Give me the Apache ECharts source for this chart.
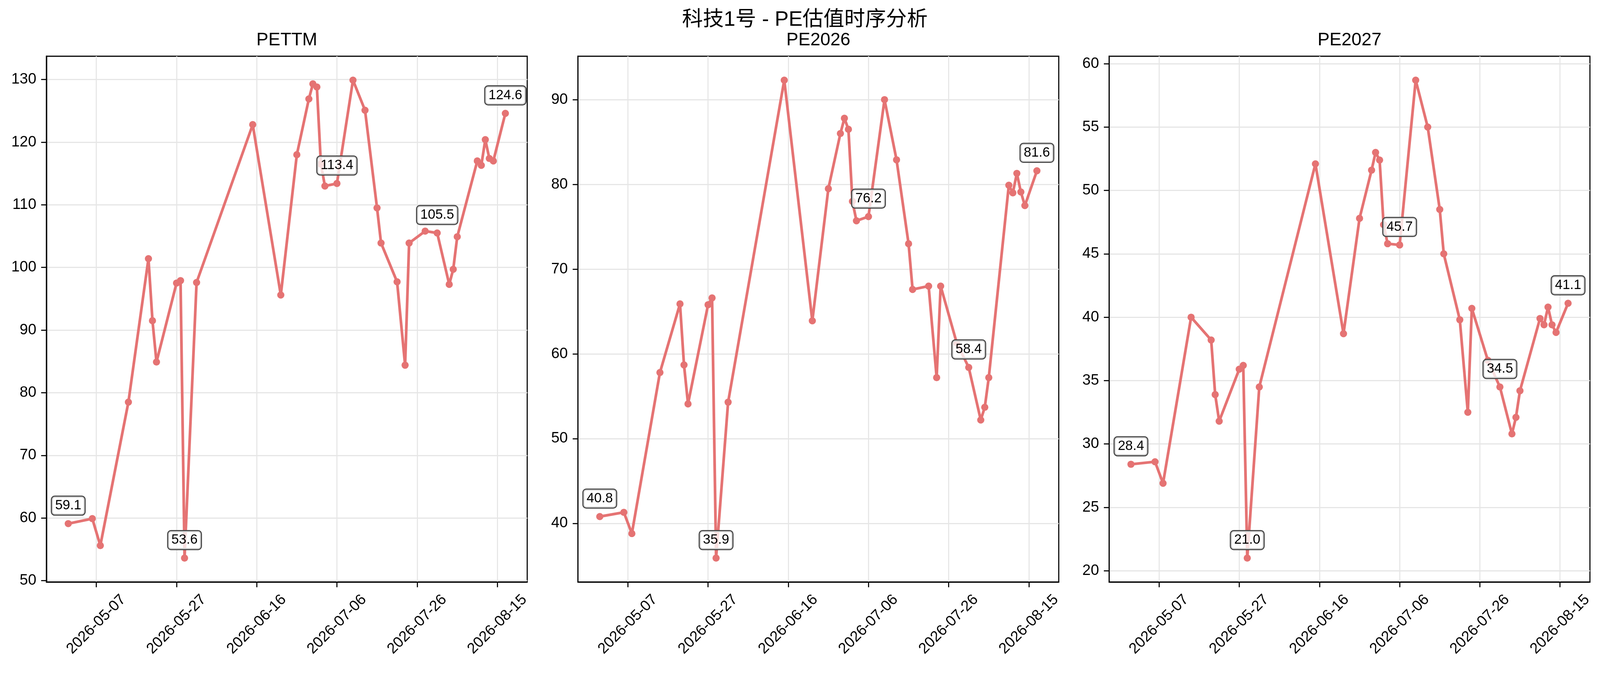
<!DOCTYPE html>
<html>
<head>
<meta charset="utf-8">
<script src="https://cdn.jsdelivr.net/npm/echarts@6/dist/echarts.min.js"></script>
<style>
html,body{margin:0;padding:0;background:#ffffff;overflow:hidden;width:100%;height:100%;}
#chart{width:100vw;height:100vh;}
</style>
</head>
<body>
<div id="chart"></div>
<script>
// ---------------- data ----------------
const mainTitle = '科技1号 - PE估值时序分析';
const panelTitles = ['PETTM', 'PE2026', 'PE2027'];

const dates = [
  '2026-04-30','2026-05-06','2026-05-08','2026-05-15','2026-05-20','2026-05-21','2026-05-22',
  '2026-05-27','2026-05-28','2026-05-29','2026-06-01','2026-06-15','2026-06-22','2026-06-26',
  '2026-06-29','2026-06-30','2026-07-01','2026-07-02','2026-07-03','2026-07-06','2026-07-10',
  '2026-07-13','2026-07-16','2026-07-17','2026-07-21','2026-07-23','2026-07-24','2026-07-28',
  '2026-07-31','2026-08-03','2026-08-04','2026-08-05','2026-08-10','2026-08-11','2026-08-12',
  '2026-08-13','2026-08-14','2026-08-17'
];

const peTTM = [
  59.1, 59.9, 55.6, 78.5, 101.4, 91.5, 84.9,
  97.5, 97.9, 53.6, 97.6, 122.8, 95.6, 118.0,
  126.9, 129.3, 128.8, 116.5, 113.0, 113.4, 129.9,
  125.1, 109.5, 103.9, 97.7, 84.4, 103.9, 105.8,
  105.5, 97.3, 99.7, 104.9, 117.0, 116.3, 120.4,
  117.4, 117.0, 124.6
];

const pe2026 = [
  40.8, 41.3, 38.8, 57.8, 65.9, 58.7, 54.1,
  65.8, 66.6, 35.9, 54.3, 92.3, 63.9, 79.5,
  86.0, 87.8, 86.5, 78.0, 75.7, 76.2, 90.0,
  82.9, 73.0, 67.6, 68.0, 57.2, 68.0, 61.3,
  58.4, 52.2, 53.7, 57.2, 79.9, 79.0, 81.3,
  79.1, 77.5, 81.6
];

const pe2027 = [
  28.4, 28.6, 26.9, 40.0, 38.2, 33.9, 31.8,
  35.9, 36.2, 21.0, 34.5, 52.1, 38.7, 47.8,
  51.6, 53.0, 52.4, 47.3, 45.8, 45.7, 58.7,
  55.0, 48.5, 45.0, 39.8, 32.5, 40.7, 36.6,
  34.5, 30.8, 32.1, 34.2, 39.9, 39.4, 40.8,
  39.4, 38.8, 41.1
];

const labelDates = ['2026-04-30','2026-05-29','2026-07-06','2026-07-31','2026-08-17'];

const xTickDates = ['2026-05-07','2026-05-27','2026-06-16','2026-07-06','2026-07-26','2026-08-15'];
const yTicksTTM = [50, 60, 70, 80, 90, 100, 110, 120, 130];
const yTicks2026 = [40, 50, 60, 70, 80, 90];
const yTicks2027 = [20, 25, 30, 35, 40, 45, 50, 55, 60];

// ---------------- helpers ----------------
const FONT = '"Liberation Sans", Arial, "Noto Sans CJK SC", sans-serif';
const LINE_COLOR = '#E57373';
const el = document.getElementById('chart');
const VW = el.clientWidth || window.innerWidth, VH = el.clientHeight || window.innerHeight;
const SX = VW / 4449, SY = VH / 1723, S = Math.min(SX, SY);

function toDay(s) {
  const p = s.split('-').map(Number);
  return Date.UTC(p[0], p[1] - 1, p[2]) / 86400000;
}
function fromDay(v) {
  return new Date(Math.round(v) * 86400000).toISOString().slice(0, 10);
}
function padRange(arr) {
  const mn = Math.min.apply(null, arr), mx = Math.max.apply(null, arr);
  const m = (mx - mn) * 0.05;
  return [mn - m, mx + m];
}

const xDays = dates.map(toDay);
const xRange = padRange(xDays);
const xTicks = xTickDates.map(toDay);
const labelSet = new Set(labelDates);

const panels = [
  { title: panelTitles[0], values: peTTM, ticks: yTicksTTM },
  { title: panelTitles[1], values: pe2026, ticks: yTicks2026 },
  { title: panelTitles[2], values: pe2027, ticks: yTicks2027 }
];

const gridLefts = [129, 1607, 3084];
const gridTop = 144, gridW = 1337, gridH = 1346;
const TICK_FS = 41.7;

const grids = [], xAxes = [], yAxes = [], series = [], graphics = [];

graphics.push({
  type: 'text', x: 2238 * SX, y: 51 * SY, silent: true,
  style: { text: mainTitle, fontSize: 58 * S, fontFamily: FONT, fill: '#000', align: 'center', verticalAlign: 'middle' }
});

panels.forEach((p, i) => {
  grids.push({
    left: gridLefts[i] * SX, top: gridTop * SY, width: gridW * SX, height: gridH * SY,
    show: true, borderColor: '#000', borderWidth: 3 * S, backgroundColor: '#fff',
    containLabel: false, outerBoundsMode: 'none'
  });
  graphics.push({
    type: 'text', x: (gridLefts[i] + gridW / 2) * SX, y: 103 * SY, silent: true,
    style: { text: p.title, fontSize: 50 * S, fontFamily: FONT, fill: '#000', align: 'center', verticalAlign: 'middle' }
  });
  const yr = padRange(p.values);
  xAxes.push({
    type: 'value', gridIndex: i, min: xRange[0], max: xRange[1],
    axisLine: { show: true, onZero: false, lineStyle: { color: '#000', width: 3 * S } },
    axisTick: { show: true, inside: false, length: 14.6 * S, lineStyle: { color: '#000', width: 3 * S }, customValues: xTicks },
    axisLabel: {
      show: true, customValues: xTicks, rotate: 45, align: 'center', verticalAlign: 'middle', margin: 118 * S,
      fontSize: TICK_FS * S, fontFamily: FONT, color: '#000', hideOverlap: false,
      formatter: v => fromDay(v)
    },
    splitLine: { show: true, lineStyle: { color: '#e6e6e6', width: 3 * S } }
  });
  yAxes.push({
    type: 'value', gridIndex: i, min: yr[0], max: yr[1],
    axisLine: { show: true, onZero: false, lineStyle: { color: '#000', width: 3 * S } },
    axisTick: { show: true, inside: false, length: 14.6 * S, lineStyle: { color: '#000', width: 3 * S }, customValues: p.ticks },
    axisLabel: {
      show: true, customValues: p.ticks, margin: 28 * S, showMinLabel: true, showMaxLabel: true,
      fontSize: TICK_FS * S, fontFamily: FONT, color: '#000',
      formatter: v => String(Math.round(v))
    },
    splitLine: { show: true, lineStyle: { color: '#e6e6e6', width: 3 * S } }
  });
  series.push({
    type: 'line', xAxisIndex: i, yAxisIndex: i, silent: true,
    symbol: 'circle', symbolSize: 20 * S, showSymbol: true, showAllSymbol: true,
    lineStyle: { color: LINE_COLOR, width: 7.5 * S },
    itemStyle: { color: LINE_COLOR, borderWidth: 0 },
    emphasis: { disabled: true },
    label: {
      show: false, position: 'top', distance: 15 * S,
      formatter: d => d.value[1].toFixed(1),
      fontSize: 37.5 * S, fontFamily: FONT, color: '#000', lineHeight: 40 * S,
      backgroundColor: 'rgba(255,255,255,0.78)', borderColor: '#444', borderWidth: 3 * S,
      borderRadius: 8 * S, padding: [5 * S, 9 * S, 5 * S, 9 * S]
    },
    z: 3,
    data: xDays.map((x, k) => {
      const item = { value: [x, p.values[k]] };
      if (labelSet.has(dates[k])) item.label = { show: true };
      return item;
    })
  });
});

const chart = echarts.init(el, null, { renderer: 'canvas' });
chart.setOption({
  animation: false,
  backgroundColor: '#ffffff',
  grid: grids,
  xAxis: xAxes,
  yAxis: yAxes,
  series: series,
  graphic: graphics
});
</script>
</body>
</html>
